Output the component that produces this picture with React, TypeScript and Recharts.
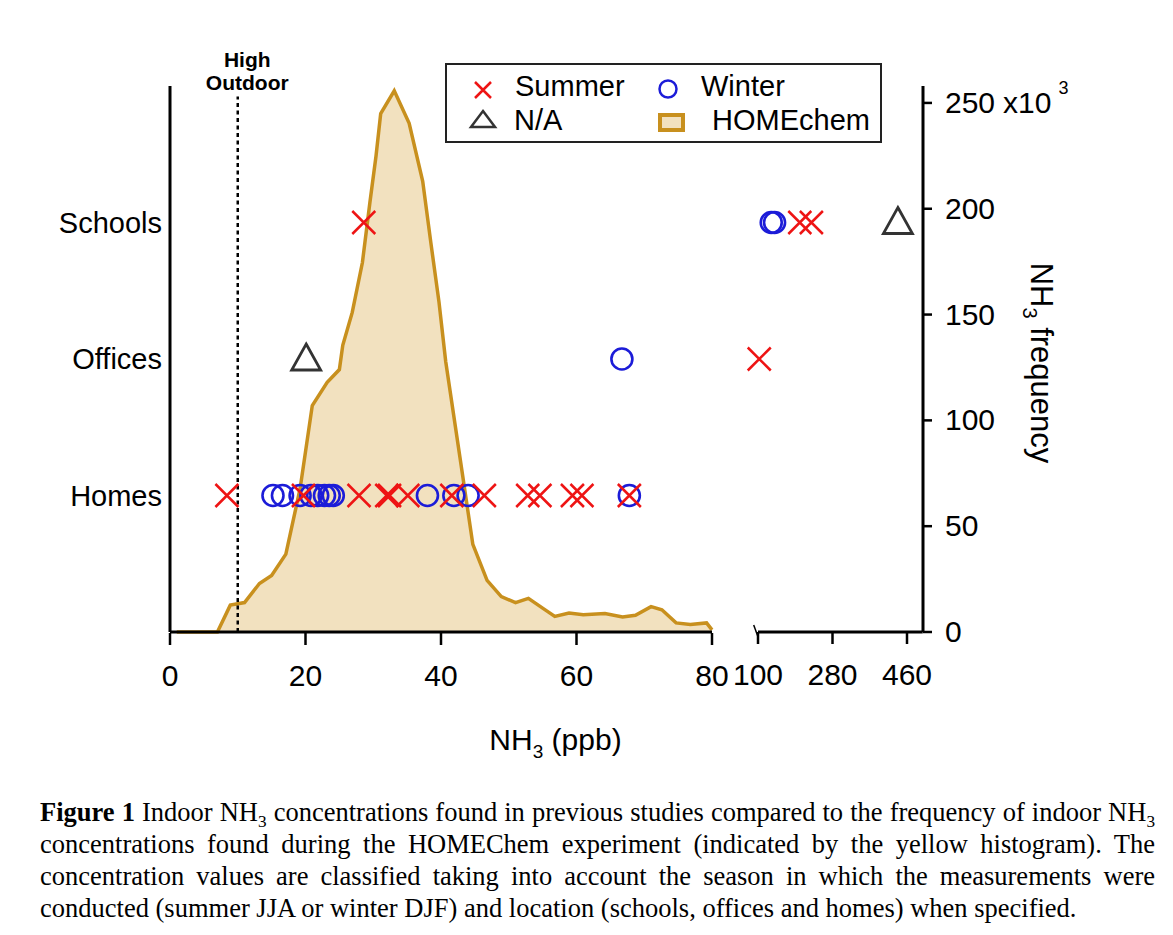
import { Area, ComposedChart, ReferenceLine, Scatter, XAxis, YAxis } from 'recharts';

const FONT = '"Liberation Sans", Arial, sans-serif';
const RED = '#ee1414';
const BLUE = '#1c1cd8';
const GRAY = '#333333';
const GOLD = '#c8901e';
const BEIGE = '#f2e1bf';

const rowLabels = ['Homes', 'Offices', 'Schools'];
const loTicks = [0, 20, 40, 60, 80];
const hiTicks = [100, 280, 460];
const freqTicks = [0, 50, 100, 150, 200, 250];

// HOMEchem NH3 histogram: ppb vs count (x10^3)
const histPpb = [1, 7, 8.9, 11, 13.2, 15, 17.1, 19.2, 21, 23.2, 25, 25.5, 26.9, 28.4, 29.5, 30.4, 31.1, 33.1, 35.3, 37.3, 38.5, 39.7, 40.7, 43.2, 44.7, 46.8, 48.9, 51, 52.9, 55, 56.8, 58.9, 61, 64.2, 66.8, 68.7, 71, 72.6, 74.7, 76.8, 79.2, 80];
const histCount = [0, 0, 12.7, 13.9, 22.9, 26.7, 36.8, 67.7, 107, 118, 124, 135.5, 151, 174.6, 202.8, 224.7, 245, 255.7, 240.4, 213, 184, 156, 127.7, 73.8, 41.4, 24.4, 16.7, 13.9, 15.9, 11.3, 7.4, 9, 8.2, 8.7, 7.1, 7.9, 12, 10.5, 4.3, 3.6, 4.3, 1];

// previous studies, NH3 in ppb
const homesSummer = [8.4, 19.7, 27.9, 32.0, 32.4, 35.1, 41.6, 46.4, 52.8, 54.6, 59.4, 60.8, 67.8];
const homesWinter = [15.2, 16.6, 19.2, 20.8, 21.8, 22.8, 23.5, 24.1, 38.0, 41.9, 44.0, 67.8];
const officesSummer = [103];
const officesWinter = [66.7];
const officesNA = [20.1];
const schoolsSummer = [28.6, 201, 229];
const schoolsWinter = [132, 140];
const schoolsNA = [438];

const histData = histPpb.map((x, i) => ({ x, freq: histCount[i] }));

const toPoints = (byRow: number[][]) =>
  byRow.flatMap((vals, i) => vals.map(x => ({ x, row: i + 1 })));

const summer = toPoints([homesSummer, officesSummer, schoolsSummer]);
const winter = toPoints([homesWinter, officesWinter, schoolsWinter]);
const na = toPoints([[], officesNA, schoolsNA]);
const lo = (p: { x: number }) => p.x <= 80;
const hi = (p: { x: number }) => p.x >= 100;

const Cross = (props: any) => {
  const { cx, cy } = props;
  const s = 11.5;
  return (
    <path
      d={`M${cx - s},${cy - s}L${cx + s},${cy + s}M${cx - s},${cy + s}L${cx + s},${cy - s}`}
      stroke={RED}
      strokeWidth={2.5}
      fill='none'
    />
  );
};

const Ring = (props: any) => (
  <circle cx={props.cx} cy={props.cy} r={10.5} stroke={BLUE} strokeWidth={2.6} fill='none' />
);

const Tri = (props: any) => {
  const { cx, cy } = props;
  return (
    <path
      d={`M${cx},${cy - 15}L${cx + 14.5},${cy + 11}L${cx - 14.5},${cy + 11}Z`}
      stroke={GRAY}
      strokeWidth={2.8}
      fill='none'
    />
  );
};

const FreqTick = (props: any) => {
  const { x, y, payload } = props;
  return (
    <text x={x} y={y} dy={10} fontSize={30} fill='#000' fontFamily={FONT} textAnchor='start'>
      {payload.value}
      {payload.value === 250 && (
        <>
          <tspan dx={8}>x10</tspan>
          <tspan dx={7} dy={-19} fontSize={18}>3</tspan>
        </>
      )}
    </text>
  );
};

const xTitle = (props: any) => {
  const vb = props.viewBox || { x: 162, y: 624, width: 753 };
  return (
    <text x={vb.x + vb.width / 2 + 9} y={742} fontSize={30} fill='#000' fontFamily={FONT} textAnchor='middle'>
      NH<tspan dy={8} fontSize={19}>3</tspan>
      <tspan dy={-8}> (ppb)</tspan>
    </text>
  );
};

const yTitle = (props: any) => {
  const vb = props.viewBox || { x: 915, y: 78, height: 546 };
  const tx = vb.x + 108;
  const ty = vb.y + vb.height / 2 + 4;
  return (
    <text
      x={tx}
      y={ty}
      transform={`rotate(90, ${tx}, ${ty})`}
      fontSize={31}
      fill='#000'
      fontFamily={FONT}
      textAnchor='middle'
    >
      NH<tspan dy={8} fontSize={20}>3</tspan>
      <tspan dy={-8}> frequency</tspan>
    </text>
  );
};

const highOutdoor = (props: any) => {
  const vb = props.viewBox || { x: 229 };
  const cx = vb.x + 9.5;
  return (
    <text fontSize={21} fontWeight='bold' fill='#000' fontFamily={FONT} textAnchor='middle'>
      <tspan x={cx} y={58.5}>High</tspan>
      <tspan x={cx} y={82}>Outdoor</tspan>
    </text>
  );
};

const Sub = ({ children }: { children: string }) => (
  <span style={{ fontSize: '0.65em', position: 'relative', top: '0.35em', lineHeight: 0 }}>{children}</span>
);

const captionLines = [
  [<b key='b'>Figure 1</b>, ' Indoor NH', <Sub key='s1'>3</Sub>, ' concentrations found in previous studies compared to the frequency of indoor NH', <Sub key='s2'>3</Sub>],
  ['concentrations found during the HOMEChem experiment (indicated by the yellow histogram). The'],
  ['concentration values are classified taking into account the season in which the measurements were'],
  ['conducted (summer JJA or winter DJF) and location (schools, offices and homes) when specified.'],
];

function LegendBox() {
  return (
    <svg width={437} height={80} style={{ position: 'absolute', left: 437, top: 55 }}>
      <rect x={1} y={1} width={435} height={78} fill='#fff' stroke='#222' strokeWidth={2} />
      <g fontFamily={FONT} fontSize={29} fill='#000'>
        <path d='M30,19L46,35M30,35L46,19' stroke={RED} strokeWidth={2.5} />
        <text x={70} y={33}>Summer</text>
        <circle cx={223} cy={26} r={8.5} stroke={BLUE} strokeWidth={2.5} fill='none' />
        <text x={256} y={33}>Winter</text>
        <path d='M38,48L50,64L26,64Z' stroke={GRAY} strokeWidth={2.5} fill='none' />
        <text x={69} y={67}>N/A</text>
        <rect x={215} y={52} width={23} height={15} stroke={GOLD} strokeWidth={4} fill={BEIGE} />
        <text x={267} y={67}>HOMEchem</text>
      </g>
    </svg>
  );
}

const axisTick = { fontSize: 30, fill: '#000', fontFamily: FONT };

export default function App() {
  return (
    <div style={{ position: 'relative', width: 1157, height: 919, fontFamily: FONT, overflow: 'hidden' }}>
      <ComposedChart
        width={1157}
        height={770}
        data={histData}
        margin={{ top: 78, right: 102, bottom: 144, left: 12 }}
      >
        <XAxis
          xAxisId='lo'
          type='number'
          dataKey='x'
          domain={[0, 80]}
          ticks={loTicks}
          interval={0}
          padding={{ left: 0, right: 211 }}
          height={1}
          axisLine={false}
          tickLine={{ stroke: '#000', strokeWidth: 2.5 }}
          tickSize={12}
          tickMargin={20}
          tick={axisTick}
          label={xTitle}
        />
        <XAxis
          xAxisId='hi'
          type='number'
          dataKey='x'
          domain={[100, 460]}
          ticks={hiTicks}
          interval={0}
          padding={{ left: 588, right: 16 }}
          height={1}
          axisLine={false}
          tickLine={{ stroke: '#000', strokeWidth: 2.5 }}
          tickSize={12}
          tickMargin={20}
          tick={axisTick}
        />
        <YAxis
          yAxisId='rows'
          orientation='left'
          type='number'
          dataKey='row'
          domain={[0, 4]}
          ticks={[1, 2, 3]}
          interval={0}
          width={150}
          axisLine={{ stroke: '#000', strokeWidth: 3 }}
          tickLine={false}
          tickSize={0}
          tickMargin={8}
          tick={{ fontSize: 29, fill: '#000', fontFamily: FONT }}
          tickFormatter={v => rowLabels[v - 1] ?? ''}
        />
        <YAxis
          yAxisId='freq'
          orientation='right'
          type='number'
          domain={[0, 258]}
          ticks={freqTicks}
          interval={0}
          width={140}
          axisLine={{ stroke: '#000', strokeWidth: 3 }}
          tickLine={{ stroke: '#000', strokeWidth: 2.5 }}
          tickSize={9}
          tickMargin={13}
          tick={<FreqTick />}
          label={yTitle}
        />
        <Area
          xAxisId='lo'
          yAxisId='freq'
          type='linear'
          dataKey='freq'
          stroke={GOLD}
          strokeWidth={3.5}
          fill={BEIGE}
          fillOpacity={1}
          dot={false}
          activeDot={false}
          isAnimationActive={false}
        />
        <ReferenceLine
          xAxisId='lo'
          yAxisId='freq'
          segment={[{ x: 0, y: 0 }, { x: 80, y: 0 }]}
          stroke='#000'
          strokeWidth={3}
          ifOverflow='visible'
        />
        <ReferenceLine
          xAxisId='hi'
          yAxisId='freq'
          segment={[{ x: 100, y: 0 }, { x: 498, y: 0 }]}
          stroke='#000'
          strokeWidth={3}
          ifOverflow='visible'
        />
        <ReferenceLine
          xAxisId='hi'
          yAxisId='freq'
          segment={[{ x: 89.6, y: 3.3 }, { x: 100, y: -2.2 }]}
          stroke='#000'
          strokeWidth={1.5}
          ifOverflow='visible'
        />
        <ReferenceLine
          xAxisId='lo'
          yAxisId='freq'
          segment={[{ x: 10, y: 0 }, { x: 10, y: 253 }]}
          stroke='#000'
          strokeWidth={2.5}
          strokeDasharray='4 3.5'
          ifOverflow='visible'
          label={highOutdoor}
        />
        <Scatter xAxisId='lo' yAxisId='rows' data={winter.filter(lo)} shape={Ring} isAnimationActive={false} />
        <Scatter xAxisId='lo' yAxisId='rows' data={summer.filter(lo)} shape={Cross} isAnimationActive={false} />
        <Scatter xAxisId='lo' yAxisId='rows' data={na.filter(lo)} shape={Tri} isAnimationActive={false} />
        <Scatter xAxisId='hi' yAxisId='rows' data={winter.filter(hi)} shape={Ring} isAnimationActive={false} />
        <Scatter xAxisId='hi' yAxisId='rows' data={summer.filter(hi)} shape={Cross} isAnimationActive={false} />
        <Scatter xAxisId='hi' yAxisId='rows' data={na.filter(hi)} shape={Tri} isAnimationActive={false} />
      </ComposedChart>
      <LegendBox />
      <div
        style={{
          position: 'absolute',
          left: 32,
          top: 788,
          width: 1115,
          fontFamily: '"Liberation Serif", "Times New Roman", serif',
          fontSize: 26.5,
          lineHeight: '32px',
          color: '#000',
        }}
      >
        {captionLines.map((parts, i) => (
          <div
            key={i}
            style={{
              whiteSpace: 'nowrap',
              height: 32,
              textAlign: 'justify',
              textAlignLast: i < captionLines.length - 1 ? 'justify' : 'left',
            }}
          >
            {parts.map((p, j) =>
              typeof p === 'string' ? <span key={j}>{p}</span> : p
            )}
          </div>
        ))}
      </div>
    </div>
  );
}
